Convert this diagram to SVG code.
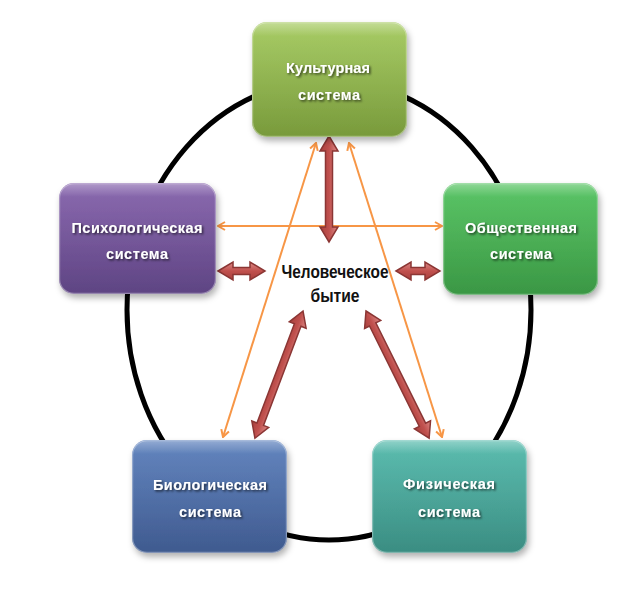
<svg xmlns="http://www.w3.org/2000/svg" width="642" height="595" viewBox="0 0 642 595">
<defs>
<style>
.box{stroke:none;filter:url(#sh)}
.hl{fill:url(#gl);stroke:#ffffff;stroke-opacity:0.35;stroke-width:1.2}
.nt{font-family:"Liberation Sans",Arial,sans-serif;font-weight:bold;font-size:14.5px;fill:#ffffff;text-anchor:middle;filter:url(#ts)}
.ct{font-family:"Liberation Sans",Arial,sans-serif;font-weight:bold;font-size:18px;fill:#111111;text-anchor:middle}
.ol{stroke:#F79646;stroke-width:2;fill:none;marker-start:url(#oa);marker-end:url(#oa)}
.ra{fill:url(#rg);stroke:#8B3634;stroke-width:1.5;stroke-linejoin:miter}
</style>
<filter id="sh" x="-20%" y="-20%" width="140%" height="150%"><feDropShadow dx="2" dy="4" stdDeviation="3" flood-color="#000" flood-opacity="0.3"/></filter>
<filter id="ts" x="-10%" y="-30%" width="120%" height="160%"><feDropShadow dx="1.5" dy="1.5" stdDeviation="0.8" flood-color="#000" flood-opacity="0.65"/></filter>
<linearGradient id="gl" x1="0" y1="0" x2="0" y2="1"><stop offset="0" stop-color="#fff" stop-opacity="0.35"/><stop offset="0.12" stop-color="#fff" stop-opacity="0.05"/><stop offset="1" stop-color="#fff" stop-opacity="0"/></linearGradient>
<linearGradient id="g1" x1="0" y1="0" x2="0" y2="1"><stop offset="0" stop-color="#A3C95D"/><stop offset="1" stop-color="#789A3B"/></linearGradient>
<linearGradient id="g2" x1="0" y1="0" x2="0" y2="1"><stop offset="0" stop-color="#8461AB"/><stop offset="1" stop-color="#5E4483"/></linearGradient>
<linearGradient id="g3" x1="0" y1="0" x2="0" y2="1"><stop offset="0" stop-color="#52C25E"/><stop offset="1" stop-color="#3A9744"/></linearGradient>
<linearGradient id="g4" x1="0" y1="0" x2="0" y2="1"><stop offset="0" stop-color="#5A7EBB"/><stop offset="1" stop-color="#3F5A8F"/></linearGradient>
<linearGradient id="g5" x1="0" y1="0" x2="0" y2="1"><stop offset="0" stop-color="#53B9AB"/><stop offset="1" stop-color="#3A8D82"/></linearGradient>
<linearGradient id="rg" x1="0" y1="0" x2="0" y2="1"><stop offset="0" stop-color="#DB8A87"/><stop offset="0.5" stop-color="#C0504D"/><stop offset="1" stop-color="#A8403D"/></linearGradient>
<marker id="oa" viewBox="0 0 12 12" refX="11" refY="6" markerWidth="12" markerHeight="12" markerUnits="userSpaceOnUse" orient="auto-start-reverse"><path d="M4,2 L11,6 L4,10" fill="none" stroke="#F79646" stroke-width="2" stroke-linejoin="miter"/></marker>
</defs>
<rect width="642" height="595" fill="#ffffff"/>
<g id="ring"><ellipse cx="329" cy="310" rx="202" ry="230" fill="none" stroke="#000" stroke-width="5"/></g>
<g id="connectors">
<line class="ol" x1="218" y1="226" x2="442" y2="226"/>
<line class="ol" x1="316" y1="143" x2="223" y2="437"/>
<line class="ol" x1="349" y1="143" x2="442" y2="437"/>
<path class="ra" transform="translate(329,136) rotate(90)" d="M0,0 L15,-9 L15,-3.5 L91,-3.5 L91,-9 L106,0 L91,9 L91,3.5 L15,3.5 L15,9 Z"/>
<path class="ra" transform="translate(218,271)" d="M0,0 L15,-9 L15,-3.5 L32,-3.5 L32,-9 L47,0 L32,9 L32,3.5 L15,3.5 L15,9 Z"/>
<path class="ra" transform="translate(396,271)" d="M0,0 L15,-9 L15,-3.5 L29,-3.5 L29,-9 L44,0 L29,9 L29,3.5 L15,3.5 L15,9 Z"/>
<path class="ra" transform="translate(303,311) rotate(110.7)" d="M0,0 L15,-9 L15,-3.5 L121,-3.5 L121,-9 L136,0 L121,9 L121,3.5 L15,3.5 L15,9 Z"/>
<path class="ra" transform="translate(366,311) rotate(63.6)" d="M0,0 L15,-9 L15,-3.5 L127,-3.5 L127,-9 L142,0 L127,9 L127,3.5 L15,3.5 L15,9 Z"/>
</g>
<g id="center">
<text class="ct" x="335" y="278" textLength="107" lengthAdjust="spacingAndGlyphs">Человеческое</text>
<text class="ct" x="335" y="302" textLength="49" lengthAdjust="spacingAndGlyphs">бытие</text>
</g>
<g id="n-culture">
<rect class="box" x="252" y="22" width="155" height="115" rx="15" fill="url(#g1)"/>
<rect class="hl" x="252.6" y="22.6" width="153.8" height="113.8" rx="14.5"/>
<text class="nt" x="328" y="73" textLength="84" lengthAdjust="spacing">Культурная</text>
<text class="nt" x="329" y="100" textLength="62" lengthAdjust="spacing">система</text>
</g>
<g id="n-psych">
<rect class="box" x="59" y="183" width="157" height="111" rx="15" fill="url(#g2)"/>
<rect class="hl" x="59.6" y="183.6" width="155.8" height="109.8" rx="14.5"/>
<text class="nt" x="137" y="233" textLength="131" lengthAdjust="spacing">Психологическая</text>
<text class="nt" x="137" y="259" textLength="62" lengthAdjust="spacing">система</text>
</g>
<g id="n-social">
<rect class="box" x="443" y="183" width="155" height="112" rx="15" fill="url(#g3)"/>
<rect class="hl" x="443.6" y="183.6" width="153.8" height="110.8" rx="14.5"/>
<text class="nt" x="521" y="233" textLength="112" lengthAdjust="spacing">Общественная</text>
<text class="nt" x="521" y="259" textLength="62" lengthAdjust="spacing">система</text>
</g>
<g id="n-bio">
<rect class="box" x="132" y="440" width="155" height="113" rx="15" fill="url(#g4)"/>
<rect class="hl" x="132.6" y="440.6" width="153.8" height="111.8" rx="14.5"/>
<text class="nt" x="210" y="490" textLength="114" lengthAdjust="spacing">Биологическая</text>
<text class="nt" x="210" y="517" textLength="62" lengthAdjust="spacing">система</text>
</g>
<g id="n-phys">
<rect class="box" x="372" y="440" width="155" height="113" rx="15" fill="url(#g5)"/>
<rect class="hl" x="372.6" y="440.6" width="153.8" height="111.8" rx="14.5"/>
<text class="nt" x="449" y="489" textLength="92" lengthAdjust="spacing">Физическая</text>
<text class="nt" x="449" y="517" textLength="62" lengthAdjust="spacing">система</text>
</g>
</svg>
